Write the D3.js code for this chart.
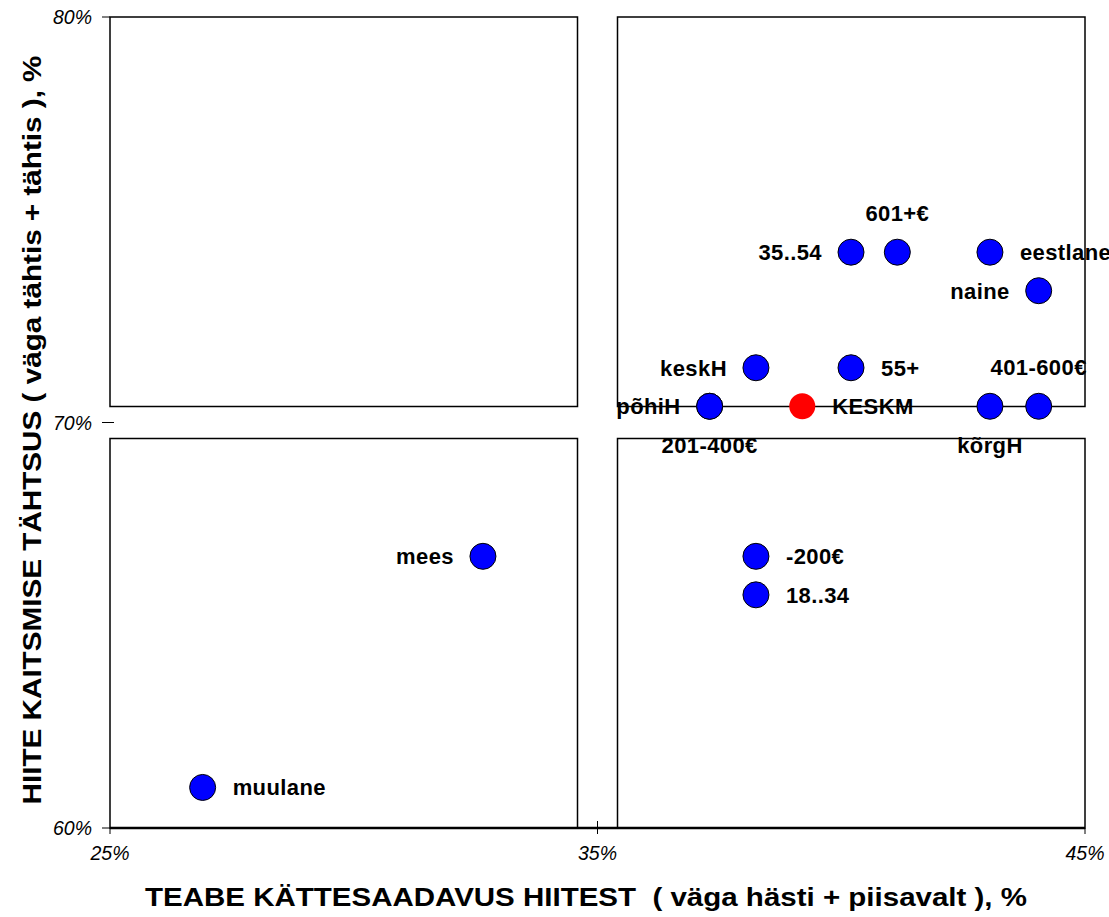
<!DOCTYPE html>
<html>
<head>
<meta charset="utf-8">
<script src="https://cdn.jsdelivr.net/npm/d3@7"></script>
<style>
body { margin: 0; background: #fff; }
svg { font-family: "Liberation Sans", Arial, sans-serif; }
.tick-label { font-style: italic; font-size: 19.5px; }
.pt-label { font-weight: bold; font-size: 22px; letter-spacing: 0.4px; }
.title { font-weight: bold; font-size: 25px; }
</style>
</head>
<body>
<svg width="1109" height="917"></svg>
<script>
// data
var labels = ["35..54", "601+€", "eestlane", "naine", "keskH", "55+", "401-600€",
              "põhiH", "KESKM", "kõrgH", "201-400€", "mees", "-200€", "18..34", "muulane"];
var xVals = [40.2, 41.15, 43.05, 44.05, 38.25, 40.2, 44.05,
             37.3, 39.2, 43.05, 37.3, 32.65, 38.25, 38.25, 26.9];
var yVals = [74.2, 74.2, 74.2, 73.25, 71.35, 71.35, 70.4,
             70.4, 70.4, 70.4, 70.4, 66.7, 66.7, 65.75, 61.0];
var labelSide = ["left", "top", "right", "left", "left", "right", "top",
                 "left", "right", "bottom", "bottom", "left", "right", "right", "right"];
var xTicks = [25, 35, 45];
var yTicks = [60, 70, 80];

var svg = d3.select("svg");
var x = d3.scaleLinear().domain([25, 45]).range([110, 1085]);
var y = d3.scaleLinear().domain([60, 80]).range([828, 17]);

// quadrant boxes
var gapX = 20, gapY = 16;
var boxes = [
  [x(25), y(80), x(35) - gapX, y(70) - gapY],
  [x(35) + gapX, y(80), x(45), y(70) - gapY],
  [x(25), y(70) + gapY, x(35) - gapX, y(60)],
  [x(35) + gapX, y(70) + gapY, x(45), y(60)]
];
svg.selectAll("rect.quad")
  .data(boxes)
  .enter().append("rect")
  .attr("class", "quad")
  .attr("x", function(d) { return d[0]; })
  .attr("y", function(d) { return d[1]; })
  .attr("width", function(d) { return d[2] - d[0]; })
  .attr("height", function(d) { return d[3] - d[1]; })
  .attr("fill", "none")
  .attr("stroke", "#000")
  .attr("stroke-width", 1.5);

// x axis line + ticks
svg.append("line")
  .attr("x1", x(25)).attr("x2", x(45))
  .attr("y1", y(60)).attr("y2", y(60))
  .attr("stroke", "#000").attr("stroke-width", 2.5);

svg.selectAll("line.xt")
  .data(xTicks).enter().append("line")
  .attr("x1", function(d) { return x(d); }).attr("x2", function(d) { return x(d); })
  .attr("y1", function(d) { return d == 35 ? y(60) - 7 : y(60); })
  .attr("y2", y(60) + 6)
  .attr("stroke", "#000");

svg.selectAll("text.xt")
  .data(xTicks).enter().append("text")
  .attr("class", "tick-label")
  .attr("x", function(d) { return x(d); })
  .attr("y", y(60) + 32)
  .attr("text-anchor", "middle")
  .text(function(d) { return d + "%"; });

// y ticks
svg.selectAll("line.yt")
  .data(yTicks).enter().append("line")
  .attr("x1", x(25) - 8)
  .attr("x2", function(d) { return d == 70 ? x(25) + 4 : x(25); })
  .attr("y1", function(d) { return y(d); }).attr("y2", function(d) { return y(d); })
  .attr("stroke", "#000");

svg.selectAll("text.yt")
  .data(yTicks).enter().append("text")
  .attr("class", "tick-label")
  .attr("x", x(25) - 18)
  .attr("y", function(d) { return y(d) + 7; })
  .attr("text-anchor", "end")
  .text(function(d) { return d + "%"; });

// points
var pts = labels.map(function(l, i) {
  return {label: l, x: xVals[i], y: yVals[i], side: labelSide[i]};
});

svg.selectAll("circle.pt")
  .data(pts).enter().append("circle")
  .attr("cx", function(d) { return x(d.x); })
  .attr("cy", function(d) { return y(d.y); })
  .attr("r", 13)
  .attr("fill", function(d) { return d.label == "KESKM" ? "#ff0000" : "#0000ff"; })
  .attr("stroke", function(d) { return d.label == "KESKM" ? "none" : "#000"; })
  .attr("stroke-width", 1);

svg.selectAll("text.pt")
  .data(pts).enter().append("text")
  .attr("class", "pt-label")
  .attr("x", function(d) {
    if (d.side == "left") return x(d.x) - 29;
    if (d.side == "right") return x(d.x) + 30;
    return x(d.x);
  })
  .attr("y", function(d) {
    if (d.side == "top") return y(d.y) - 31;
    if (d.side == "bottom") return y(d.y) + 47;
    return y(d.y) + 8;
  })
  .attr("text-anchor", function(d) {
    if (d.side == "left") return "end";
    if (d.side == "right") return "start";
    return "middle";
  })
  .text(function(d) { return d.label; });

// axis titles
svg.append("text")
  .attr("class", "title")
  .attr("x", 586)
  .attr("y", 906)
  .attr("text-anchor", "middle")
  .attr("textLength", 882)
  .attr("lengthAdjust", "spacingAndGlyphs")
  .style("white-space", "pre")
  .text("TEABE KÄTTESAADAVUS HIITEST  ( väga hästi + piisavalt ), %");

svg.append("text")
  .attr("class", "title")
  .attr("transform", "translate(41,430) rotate(-90)")
  .attr("text-anchor", "middle")
  .attr("textLength", 749)
  .attr("lengthAdjust", "spacingAndGlyphs")
  .text("HIITE KAITSMISE TÄHTSUS ( väga tähtis + tähtis ), %");
</script>
</body>
</html>
